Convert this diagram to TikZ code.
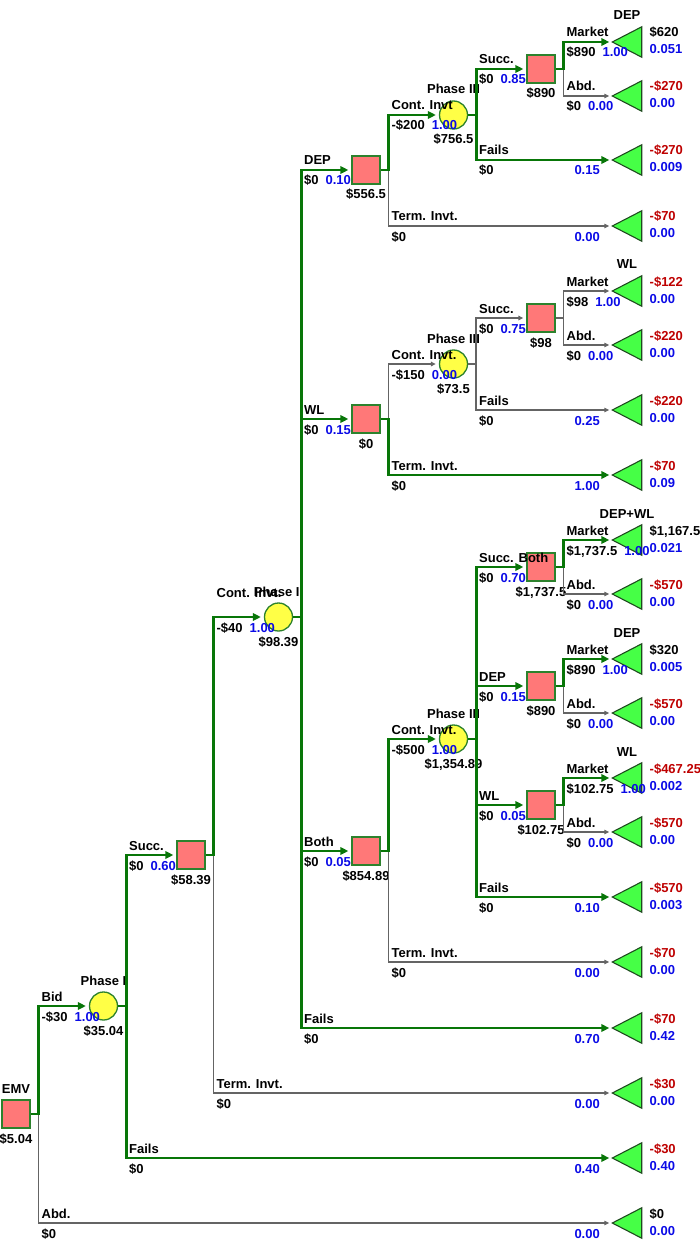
\documentclass[tikz,border=0pt]{standalone}
\usepackage{fontspec}
\setmainfont{Liberation Sans}
\usetikzlibrary{arrows.meta,calc}

\definecolor{optg}{RGB}{8,118,8}
\definecolor{subg}{RGB}{100,100,100}
\definecolor{decfill}{RGB}{255,120,120}
\definecolor{chfill}{RGB}{255,255,70}
\definecolor{tfill}{RGB}{70,255,70}
\definecolor{nodeline}{RGB}{45,130,45}
\definecolor{tline}{RGB}{30,75,30}
\definecolor{prob}{RGB}{10,10,230}
\definecolor{loss}{RGB}{190,0,0}

\tikzset{
  lbl/.style={font=\fontsize{13}{15}\selectfont\bfseries, inner sep=0pt, outer sep=0pt},
  dec/.style={rectangle, draw=nodeline, fill=decfill, line width=1.3pt, minimum size=28pt, inner sep=0pt},
  chance/.style={circle, draw=nodeline, fill=chfill, line width=1.3pt, minimum size=28pt, inner sep=0pt},
  endpt/.style={rectangle, minimum width=29pt, minimum height=30pt, inner sep=0pt},
  tri/.style={draw=tline, fill=tfill, line width=1.1pt},
  opt/.style={draw=optg, line width=2.8pt, -{Triangle[length=8pt,width=7.5pt]}, shorten >=3pt},
  sub/.style={draw=subg, line width=1.4pt, -{Triangle[length=5pt,width=4.5pt]}, shorten >=3pt},
}

% terminal: name, y, payoff, payoff colour, probability
\newcommand\term[5]{%
  \node[endpt] (#1) at (627,#2) {};
  \filldraw[tri] (#1.west) -- (#1.north east) -- (#1.south east) -- cycle;
  \node[lbl,anchor=base west,text=#4] at ($(#1.east)+(8,-5)$) {#3};
  \node[lbl,anchor=base west,text=prob] at ($(#1.east)+(8,12)$) {#5};
}
% labels above / below a decision or chance node
\newcommand\nlab[3]{%
  \node[lbl,anchor=base] at ($(#1)+(0,-21)$) {#2};
  \node[lbl,anchor=base] at ($(#1)+(0,29)$) {#3};
}
% branch with probability written after the value (optional: name height)
\newcommand\bri[7][-5]{%
  \draw[#2] (#3.east) -- ++(8,0) coordinate (v) |- (#4.west);
  \node[lbl,anchor=base west] at ($(v |- #4.west)+(3,#1)$) {#5};
  \node[lbl,anchor=base west] at ($(v |- #4.west)+(3,15)$) {#6\hspace{7pt}\textcolor{prob}{#7}};
}
% branch with probability at the far end
\newcommand\brr[6]{%
  \draw[#1] (#2.east) -- ++(8,0) coordinate (v) |- (#3.west);
  \node[lbl,anchor=base west] at ($(v |- #3.west)+(3,-5)$) {#4};
  \node[lbl,anchor=base west] at ($(v |- #3.west)+(3,15)$) {#5};
  \node[lbl,anchor=base east,text=prob] at ($(#3.west)+(-12.5,15)$) {#6};
}

\begin{document}
\begin{tikzpicture}[x=1pt,y=-1pt]
\useasboundingbox (0,0) rectangle (699,1257);

% decision and chance nodes
\node[dec] (r) at (16,1114) {};
\node[chance] (p1) at (103.5,1006) {};
\node[dec] (s1) at (191,855) {};
\node[chance] (p2) at (278.5,617) {};
\node[dec] (dD) at (366,170) {};
\node[dec] (dW) at (366,419) {};
\node[dec] (dB) at (366,851) {};
\node[chance] (p3D) at (453.5,115) {};
\node[chance] (p3W) at (453.5,364) {};
\node[chance] (p3B) at (453.5,739) {};
\node[dec] (qD) at (541,69) {};
\node[dec] (qW) at (541,318) {};
\node[dec] (qBB) at (541,567) {};
\node[dec] (qBD) at (541,686) {};
\node[dec] (qBW) at (541,805) {};

% end points
\term{t1}{42}{\$620}{black}{0.051}
\term{t2}{96}{-\$270}{loss}{0.00}
\term{t3}{160}{-\$270}{loss}{0.009}
\term{t4}{226}{-\$70}{loss}{0.00}
\term{t5}{291}{-\$122}{loss}{0.00}
\term{t6}{345}{-\$220}{loss}{0.00}
\term{t7}{410}{-\$220}{loss}{0.00}
\term{t8}{475}{-\$70}{loss}{0.09}
\term{t9}{540}{\$1,167.5}{black}{0.021}
\term{t10}{594}{-\$570}{loss}{0.00}
\term{t11}{659}{\$320}{black}{0.005}
\term{t12}{713}{-\$570}{loss}{0.00}
\term{t13}{778}{-\$467.25}{loss}{0.002}
\term{t14}{832}{-\$570}{loss}{0.00}
\term{t15}{897}{-\$570}{loss}{0.003}
\term{t16}{962}{-\$70}{loss}{0.00}
\term{t17}{1028}{-\$70}{loss}{0.42}
\term{t18}{1093}{-\$30}{loss}{0.00}
\term{t19}{1158}{-\$30}{loss}{0.40}
\term{t20}{1223}{\$0}{black}{0.00}

\node[lbl,anchor=base] at ($(t1)+(0,-22)$) {DEP};
\node[lbl,anchor=base] at ($(t5)+(0,-22)$) {WL};
\node[lbl,anchor=base] at ($(t9)+(0,-22)$) {DEP+WL};
\node[lbl,anchor=base] at ($(t11)+(0,-22)$) {DEP};
\node[lbl,anchor=base] at ($(t13)+(0,-22)$) {WL};

% node names and values
\nlab{r}{EMV}{\$5.04}
\nlab{p1}{Phase I}{\$35.04}
\nlab{s1}{}{\$58.39}
\nlab{p2}{Phase II}{\$98.39}
\nlab{dD}{}{\$556.5}
\nlab{dW}{}{\$0}
\nlab{dB}{}{\$854.89}
\nlab{p3D}{Phase III}{\$756.5}
\nlab{p3W}{Phase III}{\$73.5}
\nlab{p3B}{Phase III}{\$1,354.89}
\nlab{qD}{}{\$890}
\nlab{qW}{}{\$98}
\nlab{qBB}{}{\$1,737.5}
\nlab{qBD}{}{\$890}
\nlab{qBW}{}{\$102.75}

% branches off the chosen path
\brr{sub}{r}{t20}{Abd.}{\$0}{0.00}
\brr{sub}{s1}{t18}{Term. Invt.}{\$0}{0.00}
\brr{sub}{dD}{t4}{Term. Invt.}{\$0}{0.00}
\bri{sub}{dW}{p3W}{Cont. Invt.}{-\$150}{0.00}
\bri{sub}{p3W}{qW}{Succ.}{\$0}{0.75}
\brr{sub}{p3W}{t7}{Fails}{\$0}{0.25}
\bri{sub}{qW}{t5}{Market}{\$98}{1.00}
\bri{sub}{qW}{t6}{Abd.}{\$0}{0.00}
\brr{sub}{dB}{t16}{Term. Invt.}{\$0}{0.00}
\bri{sub}{qD}{t2}{Abd.}{\$0}{0.00}
\bri{sub}{qBB}{t10}{Abd.}{\$0}{0.00}
\bri{sub}{qBD}{t12}{Abd.}{\$0}{0.00}
\bri{sub}{qBW}{t14}{Abd.}{\$0}{0.00}

% branches on the chosen path
\bri{opt}{r}{p1}{Bid}{-\$30}{1.00}
\bri{opt}{p1}{s1}{Succ.}{\$0}{0.60}
\brr{opt}{p1}{t19}{Fails}{\$0}{0.40}
\bri[-20]{opt}{s1}{p2}{Cont. Invt.}{-\$40}{1.00}
\bri{opt}{p2}{dD}{DEP}{\$0}{0.10}
\bri{opt}{p2}{dW}{WL}{\$0}{0.15}
\bri{opt}{p2}{dB}{Both}{\$0}{0.05}
\brr{opt}{p2}{t17}{Fails}{\$0}{0.70}
\bri{opt}{dD}{p3D}{Cont. Invt}{-\$200}{1.00}
\bri{opt}{p3D}{qD}{Succ.}{\$0}{0.85}
\brr{opt}{p3D}{t3}{Fails}{\$0}{0.15}
\bri{opt}{qD}{t1}{Market}{\$890}{1.00}
\brr{opt}{dW}{t8}{Term. Invt.}{\$0}{1.00}
\bri{opt}{dB}{p3B}{Cont. Invt.}{-\$500}{1.00}
\bri{opt}{p3B}{qBB}{Succ. Both}{\$0}{0.70}
\bri{opt}{p3B}{qBD}{DEP}{\$0}{0.15}
\bri{opt}{p3B}{qBW}{WL}{\$0}{0.05}
\brr{opt}{p3B}{t15}{Fails}{\$0}{0.10}
\bri{opt}{qBB}{t9}{Market}{\$1,737.5}{1.00}
\bri{opt}{qBD}{t11}{Market}{\$890}{1.00}
\bri{opt}{qBW}{t13}{Market}{\$102.75}{1.00}
\end{tikzpicture}
\end{document}
